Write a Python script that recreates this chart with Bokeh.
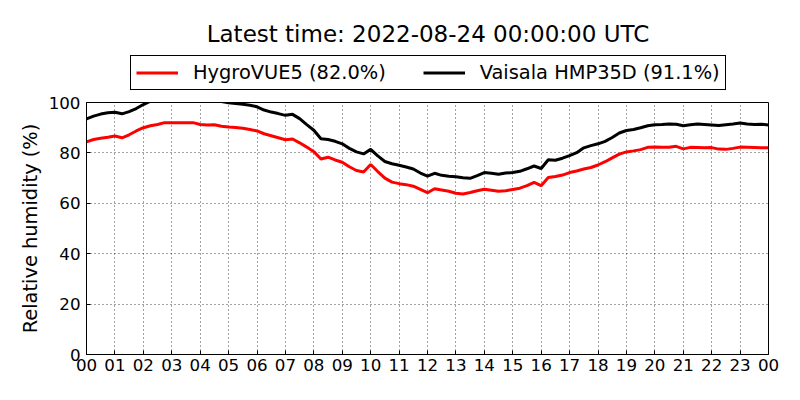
from bokeh.plotting import figure
from bokeh.layouts import column
from bokeh.models import Range1d, FixedTicker, Legend, LegendItem, Label
from bokeh.embed import file_html
from bokeh.resources import INLINE

FONT = "DejaVu Sans"

title_text = "Latest time: 2022-08-24 00:00:00 UTC"
series_names = ["HygroVUE5 (82.0%)", "Vaisala HMP35D (91.1%)"]
series_colors = ["red", "black"]
hour_ticks = list(range(25))
hour_labels = ["00", "01", "02", "03", "04", "05", "06", "07", "08", "09", "10", "11",
               "12", "13", "14", "15", "16", "17", "18", "19", "20", "21", "22", "23", "00"]
y_ticks = [0, 20, 40, 60, 80, 100]

# time of day in hours (15-minute samples)
hours = [i * 0.25 for i in range(97)]

hygrovue5 = [
    84.4, 85.3, 85.8, 86.2, 86.7, 86.0, 87.2, 88.7, 90.0, 90.8, 91.3, 92.0,
    92.0, 92.0, 92.0, 92.0, 91.3, 91.1, 91.2, 90.6, 90.3, 90.1, 89.8, 89.3,
    88.7, 87.6, 86.8, 86.0, 85.2, 85.5, 84.0, 82.3, 80.5, 77.6, 78.3, 77.2,
    76.3, 74.5, 73.0, 72.4, 75.4, 72.6, 70.0, 68.4, 67.8, 67.4, 66.8, 65.5,
    64.2, 65.8, 65.3, 64.8, 64.0, 63.7, 64.3, 65.0, 65.6, 65.2, 64.8, 65.0,
    65.5, 66.0, 67.0, 68.3, 67.0, 70.2, 70.6, 71.2, 72.2, 72.8, 73.6, 74.2,
    75.2, 76.5, 78.0, 79.5, 80.4, 80.8, 81.3, 82.2, 82.3, 82.2, 82.2, 82.6,
    81.6, 82.2, 82.1, 82.0, 82.1, 81.5, 81.4, 81.8, 82.3, 82.2, 82.1, 82.0,
    82.0,
]

hmp35d = [
    93.5, 94.6, 95.4, 95.9, 96.1, 95.5, 96.4, 97.6, 99.2, 100.5, 101.0, 101.3,
    101.5, 101.6, 101.5, 101.4, 101.2, 101.0, 100.8, 100.4, 99.9, 99.6, 99.3, 98.9,
    98.3, 97.0, 96.2, 95.6, 94.9, 95.3, 93.6, 91.2, 89.0, 85.6, 85.3, 84.6,
    83.6, 81.8, 80.4, 79.6, 81.4, 78.8, 76.6, 75.7, 75.1, 74.4, 73.6, 72.0,
    70.8, 71.9, 71.1, 70.7, 70.5, 70.1, 69.9, 71.0, 72.2, 71.9, 71.5, 72.0,
    72.2, 72.7, 73.7, 74.8, 73.8, 77.3, 77.1, 77.9, 78.9, 80.1, 82.0, 82.9,
    83.6, 84.6, 86.1, 87.9, 88.9, 89.3, 90.0, 90.8, 91.2, 91.3, 91.5, 91.4,
    90.8, 91.2, 91.5, 91.3, 91.1, 90.9, 91.2, 91.5, 91.9, 91.5, 91.3, 91.4,
    91.1,
]

W = 784
TOP_H = 92
MAIN_H = 292
FRAME_LEFT = 86

# ---------- header: title and legend (its frame is aligned with the main frame) ----------
head = figure(width=W, height=TOP_H, output_backend="svg", toolbar_location=None,
              title=None, x_range=Range1d(0, 1), y_range=Range1d(0, 1),
              x_axis_type=None, y_axis_type=None,
              min_border=0, min_border_left=0, min_border_right=0,
              min_border_top=0, min_border_bottom=0)
head.outline_line_color = None
head.xgrid.visible = False
head.ygrid.visible = False
head.background_fill_color = "white"
head.border_fill_color = "white"

# single-point lines: nothing is drawn in the frame, they only give the legend its swatches
head_lines = [head.line([-1], [-1], line_color=c, line_width=3) for c in series_colors]

head.add_layout(Label(x=427.5 - FRAME_LEFT, y=TOP_H - 33, x_units="screen", y_units="screen",
                      text=title_text, text_align="center", text_baseline="alphabetic",
                      text_font=FONT, text_font_size="23px", text_color="black"))

legend = Legend(items=[LegendItem(label=n, renderers=[r]) for n, r in zip(series_names, head_lines)],
                orientation="horizontal", location=(130 - FRAME_LEFT, TOP_H - 90), margin=0,
                padding=5, spacing=37, glyph_width=42, glyph_height=21,
                label_height=21, label_standoff=15,
                label_text_font=FONT, label_text_font_size="19.4px",
                label_text_color="black",
                border_line_color="black", border_line_width=1, border_line_alpha=1.0,
                background_fill_color="white", background_fill_alpha=1.0)
head.add_layout(legend)

# ---------- main plot ----------
p = figure(width=W, height=MAIN_H, output_backend="svg", toolbar_location=None,
           x_range=Range1d(0, 24), y_range=Range1d(0, 100),
           min_border_left=FRAME_LEFT, min_border_right=16, min_border_top=10, min_border_bottom=30)
p.background_fill_color = "white"
p.border_fill_color = "white"
p.outline_line_color = "black"
p.outline_line_alpha = 1.0
p.outline_line_width = 1

p.line(hours, hygrovue5, line_color=series_colors[0], line_width=3)
p.line(hours, hmp35d, line_color=series_colors[1], line_width=3)

p.xaxis.ticker = FixedTicker(ticks=hour_ticks)
p.xaxis.major_label_overrides = {t: lab for t, lab in zip(hour_ticks, hour_labels)}
p.yaxis.ticker = FixedTicker(ticks=y_ticks)
p.yaxis.axis_label = "Relative humidity (%)"
for ax in (p.xaxis[0], p.yaxis[0]):
    ax.major_tick_in = 4
    ax.major_tick_out = 0
    ax.minor_tick_line_color = None
    ax.axis_line_color = "black"
    ax.major_tick_line_color = "black"
    ax.major_label_text_font = FONT
    ax.major_label_text_font_size = "16.7px"
    ax.major_label_text_color = "black"
    ax.axis_label_text_font = FONT
    ax.axis_label_text_font_size = "19.4px"
    ax.axis_label_text_font_style = "normal"
    ax.axis_label_text_color = "black"
p.xaxis.major_label_standoff = 4
p.yaxis.major_label_standoff = 6
p.yaxis.axis_label_standoff = 4

for g in (p.xgrid[0], p.ygrid[0]):
    g.grid_line_color = "black"
    g.grid_line_alpha = 0.9
    g.grid_line_width = 0.8
    g.grid_line_dash = "1 3"
p.xgrid.ticker = FixedTicker(ticks=hour_ticks)
p.ygrid.ticker = FixedTicker(ticks=y_ticks)

layout = column(head, p, spacing=0)
open("out.html", "w").write(file_html(layout, INLINE))
